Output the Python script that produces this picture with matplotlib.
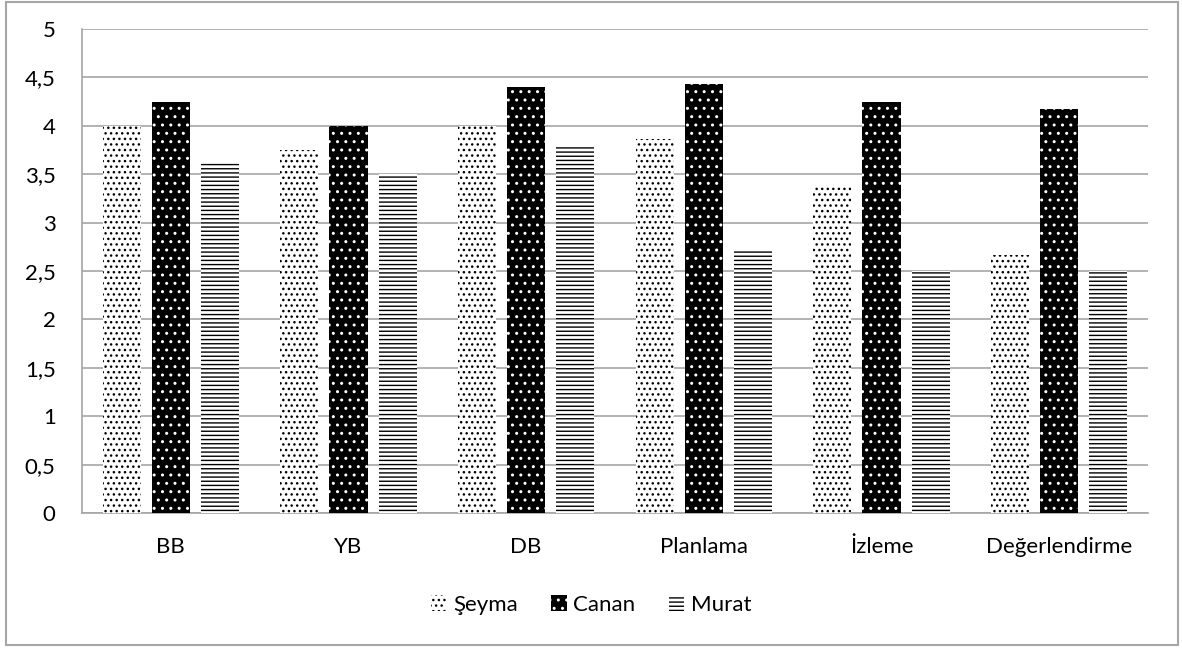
import numpy as np
import matplotlib.pyplot as plt
from matplotlib.patches import Rectangle

plt.rcParams['font.family'] = ['Lato', 'DejaVu Sans']
plt.rcParams['hatch.linewidth'] = 1.0

# data
categories = ['BB', 'YB', 'DB', 'Planlama', 'İzleme', 'Değerlendirme']
seyma = [4.0, 3.75, 4.0, 3.86, 3.37, 2.67]
canan = [4.25, 4.0, 4.4, 4.43, 4.25, 4.17]
murat = [3.63, 3.5, 3.8, 2.71, 2.5, 2.5]
yticks = [0, 0.5, 1, 1.5, 2, 2.5, 3, 3.5, 4, 4.5, 5]
ytick_labels = ['0', '0,5', '1', '1,5', '2', '2,5', '3', '3,5', '4', '4,5', '5']

fig = plt.figure(figsize=(11.82, 6.5), dpi=100)
ax = fig.add_axes([82 / 1182, 1 - 513 / 650, (1148 - 82) / 1182, (513 - 29) / 650])

x = np.arange(len(categories))
w = 0.215
off = 0.277

ax.bar(x - off, seyma, w, facecolor='white', edgecolor='black', hatch='...', linewidth=0, label='Şeyma', zorder=3)
ax.bar(x, canan, w, facecolor='black', edgecolor='white', hatch='..', linewidth=0, label='Canan', zorder=3)
ax.bar(x + off, murat, w, facecolor='white', edgecolor='black', hatch='----', linewidth=0, label='Murat', zorder=3)

ax.set_xlim(-0.5, len(categories) - 0.5)
ax.set_ylim(0, 5)
ax.set_yticks(yticks)
ax.set_yticklabels(ytick_labels)
ax.set_xticks(x)
ax.set_xticklabels(categories)
ax.tick_params(length=0, labelsize=16, colors='black')
ax.tick_params(axis='y', pad=19)
ax.tick_params(axis='x', pad=17)

ax.yaxis.grid(True, color='#A6A6A6', linewidth=1.2, zorder=0)
ax.set_axisbelow(True)
for s in ['top', 'right']:
    ax.spines[s].set_visible(False)
for s in ['left', 'bottom']:
    ax.spines[s].set_color('#A6A6A6')
    ax.spines[s].set_linewidth(1.2)

ax.legend(loc='center', bbox_to_anchor=(0.5, 1 - 605 / 650), bbox_transform=fig.transFigure,
          ncol=3, frameon=False, fontsize=16, handlelength=0.7, handleheight=0.7,
          handletextpad=0.3, columnspacing=1.5)

# outer chart border
fig.patches.append(Rectangle((6 / 1182, 5 / 650), 1172 / 1182, 643 / 650, transform=fig.transFigure,
                             fill=False, edgecolor='#A6A6A6', linewidth=1.5))

fig.savefig('out.png', dpi=100)
